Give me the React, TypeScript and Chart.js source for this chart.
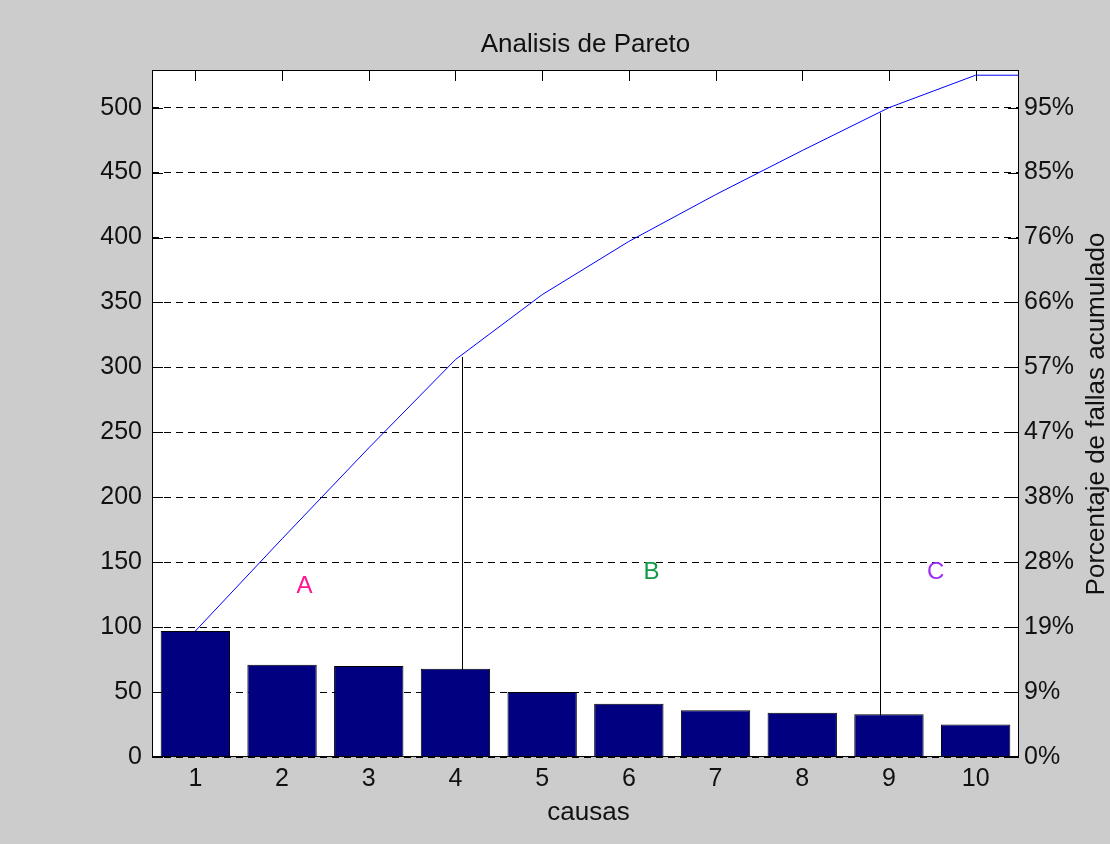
import React, { useEffect, useRef } from 'react';
import { Chart, registerables } from 'chart.js';

Chart.register(...registerables);

// ---- data ----
const causes = ['1', '2', '3', '4', '5', '6', '7', '8', '9', '10'];
const failures = [97, 71, 70, 68, 50, 41, 36, 34, 33, 25];
// remaining (not plotted) causes, counted in the total as MATLAB's pareto does
const otherCauses = 4;
const yStep = 50;

// zone annotations (x in cause units, y in failures units)
const zoneLabels = ['A', 'B', 'C'];
const zoneX = [2.26, 6.26, 9.54];
const zoneY = [131, 142, 142];
const zoneColors = ['#ff1493', '#129a48', '#a030f0'];

// divider lines between zones
const dividerX = [4.07, 8.9];
const dividerTop = [308, 496];

const titleText = 'Analisis de Pareto';
const xTitle = 'causas';
const y2Title = 'Porcentaje de fallas acumulado';

const cumulative: number[] = [];
failures.reduce((acc, v) => {
  const s = acc + v;
  cumulative.push(s);
  return s;
}, 0);
const shownTotal = cumulative[cumulative.length - 1];
const total = shownTotal + otherCauses;

const FONT = "'Liberation Sans', Arial, sans-serif";

const decorPlugin = {
  id: 'decor',
  beforeDraw(chart: any) {
    const { ctx, chartArea: a } = chart;
    ctx.save();
    ctx.fillStyle = '#cccccc';
    ctx.fillRect(0, 0, chart.width, chart.height);
    ctx.fillStyle = '#ffffff';
    ctx.fillRect(a.left, a.top, a.right - a.left, a.bottom - a.top);
    ctx.restore();
  },
  beforeDatasetsDraw(chart: any) {
    const { ctx, chartArea: a, scales } = chart;
    const x = scales.x;
    const y = scales.y;
    ctx.save();
    ctx.strokeStyle = '#000';
    ctx.lineWidth = 1;
    // bottom inner ticks
    causes.forEach((_, i) => {
      const px = Math.round(x.getPixelForValue(i)) + 0.5;
      ctx.beginPath();
      ctx.moveTo(px, a.bottom);
      ctx.lineTo(px, a.bottom - 11);
      ctx.stroke();
    });
    // dividers
    dividerX.forEach((dx, i) => {
      const px = Math.round(x.getPixelForValue(dx - 1)) + 0.5;
      ctx.beginPath();
      ctx.moveTo(px, y.getPixelForValue(dividerTop[i]));
      ctx.lineTo(px, y.getPixelForValue(0));
      ctx.stroke();
    });
    ctx.restore();
  },
  afterDatasetsDraw(chart: any) {
    const { ctx, chartArea: a, scales } = chart;
    const x = scales.x;
    const y = scales.y;
    ctx.save();
    // flat end of cumulative line
    ctx.strokeStyle = '#0000ff';
    ctx.lineWidth = 1;
    ctx.beginPath();
    ctx.moveTo(x.getPixelForValue(causes.length - 1), y.getPixelForValue(shownTotal));
    ctx.lineTo(a.right, y.getPixelForValue(shownTotal));
    ctx.stroke();

    // box
    ctx.strokeStyle = '#000';
    ctx.strokeRect(a.left + 0.5, a.top + 0.5, a.right - a.left - 1, a.bottom - a.top - 1);
    // top ticks
    causes.forEach((_, i) => {
      const px = Math.round(x.getPixelForValue(i)) + 0.5;
      ctx.beginPath();
      ctx.moveTo(px, a.top);
      ctx.lineTo(px, a.top + 11);
      ctx.stroke();
    });
    // left/right ticks
    for (let v = 0; v <= total; v += yStep) {
      const py = Math.round(y.getPixelForValue(v)) + 0.5;
      ctx.beginPath();
      ctx.moveTo(a.left, py);
      ctx.lineTo(a.left + 11, py);
      ctx.moveTo(a.right, py);
      ctx.lineTo(a.right - 11, py);
      ctx.stroke();
    }
    // zone letters
    ctx.font = `24px ${FONT}`;
    ctx.textAlign = 'center';
    ctx.textBaseline = 'middle';
    zoneLabels.forEach((t, i) => {
      ctx.fillStyle = zoneColors[i];
      ctx.fillText(t, x.getPixelForValue(zoneX[i] - 1), y.getPixelForValue(zoneY[i]));
    });
    ctx.restore();
  },
  afterDraw(chart: any) {
    const { ctx, chartArea: a } = chart;
    ctx.save();
    ctx.fillStyle = '#111';
    ctx.font = `26px ${FONT}`;
    ctx.textAlign = 'center';
    ctx.textBaseline = 'alphabetic';
    const cx = (a.left + a.right) / 2;
    ctx.fillText(titleText, cx, 52);
    ctx.fillText(xTitle, cx + 3, 820);
    ctx.translate(1104, 414);
    ctx.rotate(-Math.PI / 2);
    ctx.fillText(y2Title, 0, 0);
    ctx.restore();
  },
};

export default function App() {
  const ref = useRef<HTMLCanvasElement | null>(null);

  useEffect(() => {
    document.body.style.margin = '0';
    document.body.style.background = '#cccccc';
    if (!ref.current) return;
    const tickFont = { family: FONT, size: 25 };
    const chart = new Chart(ref.current, {
      type: 'bar',
      data: {
        labels: causes,
        datasets: [
          {
            type: 'line',
            data: cumulative,
            borderColor: '#0000ff',
            borderWidth: 1,
            pointRadius: 0,
            tension: 0,
            fill: false,
            yAxisID: 'y',
            order: 0,
          } as any,
          {
            type: 'bar',
            data: failures,
            backgroundColor: '#000080',
            borderColor: '#000000',
            borderWidth: 1,
            barPercentage: 0.8,
            categoryPercentage: 1.0,
            yAxisID: 'y',
            order: 1,
          },
        ],
      },
      options: {
        animation: false,
        responsive: false,
        devicePixelRatio: 1,
        layout: { padding: { top: 70, left: 0, right: 0, bottom: 0 } },
        plugins: {
          legend: { display: false },
          tooltip: { enabled: false },
          title: { display: false },
        },
        scales: {
          x: {
            type: 'category',
            offset: true,
            grid: { display: false, drawTicks: false },
            border: { display: false },
            ticks: { font: tickFont, color: '#111', padding: 7, maxRotation: 0, autoSkip: false },
            afterFit: (s: any) => {
              s.height = 87;
            },
          },
          y: {
            position: 'left',
            min: 0,
            max: total,
            ticks: { stepSize: yStep, includeBounds: false, font: tickFont, color: '#111', padding: 10 },
            grid: { color: '#000', lineWidth: 1, drawTicks: false },
            border: { display: false, dash: [7, 5] },
            afterFit: (s: any) => {
              s.width = 152;
            },
          },
          y2: {
            position: 'right',
            min: 0,
            max: total,
            ticks: {
              stepSize: yStep,
              includeBounds: false,
              font: tickFont,
              color: '#111',
              padding: 5,
              callback: (v: any) => Math.round((Number(v) / total) * 100) + '%',
            },
            grid: { display: false, drawTicks: false },
            border: { display: false },
            afterFit: (s: any) => {
              s.width = 91;
            },
          },
        },
      } as any,
      plugins: [decorPlugin],
    });
    return () => chart.destroy();
  }, []);

  return (
    <div style={{ width: 1110, height: 844, background: '#cccccc' }}>
      <canvas ref={ref} width={1110} height={844} style={{ display: 'block' }} />
    </div>
  );
}
